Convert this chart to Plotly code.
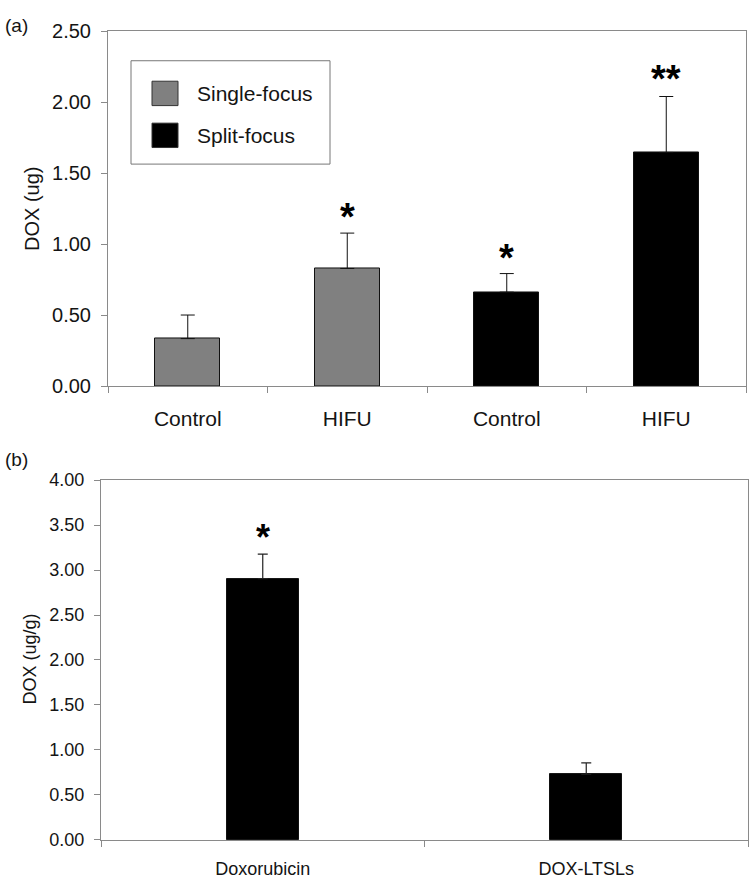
import plotly.graph_objects as go

# ---------------- data ----------------
categories_a = ["Control", "HIFU", "Control", "HIFU"]
series_a_names = ["Single-focus", "Split-focus"]
single_values = [0.337, 0.831]
single_err = [0.166, 0.249]
split_values = [0.664, 1.648]
split_err = [0.131, 0.394]
sig_a = ["", "*", "*", "**"]
yticks_a = [0.0, 0.5, 1.0, 1.5, 2.0, 2.5]

categories_b = ["Doxorubicin", "DOX-LTSLs"]
values_b = [2.905, 0.73]
err_b = [0.272, 0.126]
sig_b = ["*", ""]
yticks_b = [0.0, 0.5, 1.0, 1.5, 2.0, 2.5, 3.0, 3.5, 4.0]

# ---------------- styles ----------------
GRAY = "#808080"
BLACK = "#000000"
AX = "#8a8a8a"
TXT = "#141414"
FONT = "Liberation Sans, Arial, sans-serif"

x_a = list(range(len(categories_a)))
x_single = x_a[:2]
x_split = x_a[2:]
x_b = list(range(len(categories_b)))

fig = go.Figure()

fig.add_trace(go.Bar(
    x=x_single, y=single_values, name=series_a_names[0], width=0.41,
    marker=dict(color=GRAY, line=dict(color="#111111", width=1)),
    error_y=dict(type="data", symmetric=False, array=single_err,
                 arrayminus=[0] * len(single_err), color="#111111",
                 thickness=1, width=7),
    xaxis="x", yaxis="y", showlegend=False))

fig.add_trace(go.Bar(
    x=x_split, y=split_values, name=series_a_names[1], width=0.41,
    marker=dict(color=BLACK, line=dict(color="#111111", width=1)),
    error_y=dict(type="data", symmetric=False, array=split_err,
                 arrayminus=[0] * len(split_err), color="#111111",
                 thickness=1, width=7),
    xaxis="x", yaxis="y", showlegend=False))

fig.add_trace(go.Bar(
    x=x_b, y=values_b, name="DOX", width=0.223,
    marker=dict(color=BLACK, line=dict(color="#111111", width=1)),
    error_y=dict(type="data", symmetric=False, array=err_b,
                 arrayminus=[0] * len(err_b), color="#222222",
                 thickness=1.2, width=5),
    xaxis="x2", yaxis="y2", showlegend=False))

annotations = []
# significance marks, placed from data
vals_a = single_values + split_values
errs_a = single_err + split_err
for xi, v, e, s in zip(x_a, vals_a, errs_a, sig_a):
    if s:
        annotations.append(dict(x=xi, y=v + e, xref="x", yref="y",
                                text="<b>" + s + "</b>",
                                showarrow=False, xanchor="center", yanchor="bottom",
                                yshift=-7 if len(s) == 1 else -5,
                                font=dict(size=38, color=BLACK, family=FONT)))
for xi, v, e, s in zip(x_b, values_b, err_b, sig_b):
    if s:
        annotations.append(dict(x=xi, y=v + e, xref="x2", yref="y2",
                                text="<b>" + s + "</b>",
                                showarrow=False, xanchor="center", yanchor="bottom",
                                yshift=-6,
                                font=dict(size=36, color=BLACK, family=FONT)))

# axis titles and panel labels
annotations += [
    dict(x=32 / 750, y=1 - 203 / 887, xref="paper", yref="paper", text="DOX (ug)",
         textangle=-90, xanchor="center", yanchor="middle", showarrow=False,
         font=dict(size=20, color=TXT)),
    dict(x=30 / 750, y=1 - 665 / 887, xref="paper", yref="paper", text="DOX (ug/g)",
         textangle=-90, xanchor="center", yanchor="middle", showarrow=False,
         font=dict(size=18, color=TXT)),
    dict(x=0.004, y=1 - 15 / 887, xref="paper", yref="paper", text="(a)",
         xanchor="left", yanchor="middle", showarrow=False,
         font=dict(size=19, color=TXT)),
    dict(x=0.004, y=1 - 460 / 887, xref="paper", yref="paper", text="(b)",
         xanchor="left", yanchor="middle", showarrow=False,
         font=dict(size=19, color=TXT)),
]

# legend (drawn as box + swatches + labels)
shapes = [
    dict(type="rect", xref="paper", yref="paper", x0=131 / 750, x1=330 / 750,
         y0=1 - 157 / 887, y1=1 - 51 / 887, line=dict(color="#777777", width=1),
         fillcolor="white", layer="above"),
]
legend_colors = [GRAY, BLACK]
legend_rows = [(72, 97), (115, 140)]
for name, col, (t, b) in zip(series_a_names, legend_colors, legend_rows):
    shapes.append(dict(type="rect", xref="paper", yref="paper",
                       x0=152 / 750, x1=178 / 750, y0=1 - b / 887, y1=1 - t / 887,
                       fillcolor=col, line=dict(color="#333333", width=1),
                       layer="above"))
    annotations.append(dict(x=195 / 750, y=1 - ((t + b) / 2) / 887,
                            xref="paper", yref="paper", text=name,
                            xanchor="left", yanchor="middle", showarrow=False,
                            font=dict(size=21, color=TXT)))

axis_common = dict(showline=True, linecolor=AX, linewidth=1, mirror=True,
                   showgrid=False, zeroline=False)

fig.update_layout(
    width=750, height=887,
    margin=dict(l=0, r=0, t=0, b=0),
    paper_bgcolor="white", plot_bgcolor="white",
    font=dict(family=FONT, color=TXT),
    bargap=0,
    xaxis=dict(domain=[108 / 750, 746 / 750], range=[-0.5, len(categories_a) - 0.5],
               anchor="y", tickmode="array", tickvals=x_a, ticktext=categories_a,
               ticks="", tickfont=dict(size=21, color=TXT), ticklabelstandoff=13,
               minor=dict(tickmode="array",
                          tickvals=[i - 0.5 for i in range(len(categories_a) + 1)],
                          ticks="outside", ticklen=6, tickcolor=AX, showgrid=False),
               **axis_common),
    yaxis=dict(domain=[1 - 385 / 887, 1 - 21 / 887], range=[0, 2.5], anchor="x",
               tickmode="array", tickvals=yticks_a, tickformat=".2f",
               ticks="outside", ticklen=6, tickcolor=AX,
               tickfont=dict(size=20, color=TXT), ticklabelstandoff=6,
               **axis_common),
    xaxis2=dict(domain=[101 / 750, 748 / 750], range=[-0.5, len(categories_b) - 0.5],
                anchor="y2", tickmode="array", tickvals=x_b, ticktext=categories_b,
                ticks="", tickfont=dict(size=18, color=TXT), ticklabelstandoff=12,
                minor=dict(tickmode="array",
                           tickvals=[i - 0.5 for i in range(len(categories_b) + 1)],
                           ticks="outside", ticklen=6, tickcolor=AX, showgrid=False),
                **axis_common),
    yaxis2=dict(domain=[1 - 850 / 887, 1 - 481 / 887], range=[0, 4], anchor="x2",
                tickmode="array", tickvals=yticks_b, tickformat=".2f",
                ticks="outside", ticklen=6, tickcolor=AX,
                tickfont=dict(size=18, color=TXT), ticklabelstandoff=6,
                **axis_common),
    annotations=annotations,
    shapes=shapes,
)

fig.write_html("out.html", config={"displayModeBar": False},
               post_script="document.body.style.margin='0px';")
